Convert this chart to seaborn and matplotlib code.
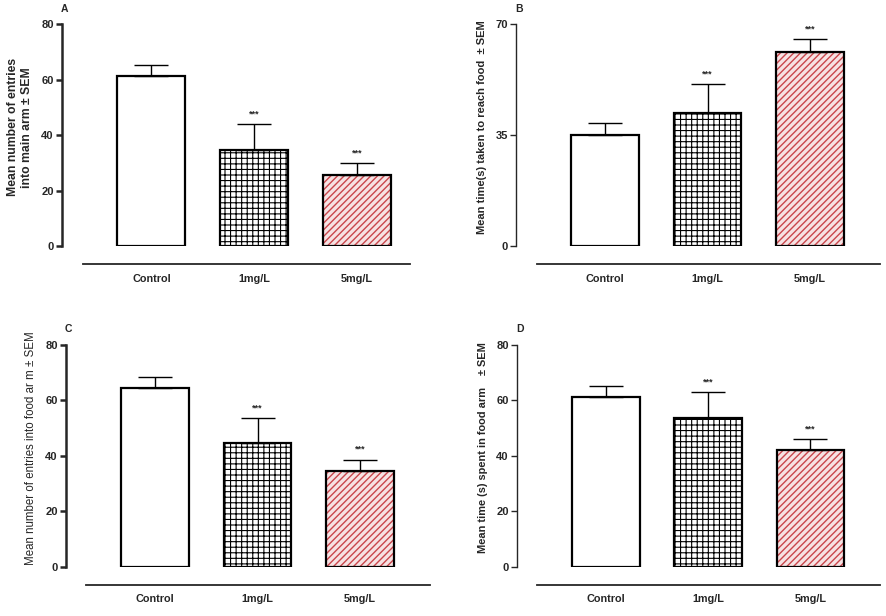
import matplotlib
matplotlib.use("Agg")
import matplotlib.pyplot as plt
from matplotlib.patches import Rectangle
import seaborn as sns

# groups and values (mean, upper SEM)
groups = ["Control", "1mg/L", "5mg/L"]

main_arm_mean = [61.2, 34.7, 25.6]
main_arm_sem = [4.0, 9.4, 4.3]

reach_food_mean = [34.9, 41.8, 61.3]
reach_food_sem = [3.9, 9.3, 3.9]

food_entries_mean = [64.3, 44.6, 34.5]
food_entries_sem = [4.2, 9.1, 4.1]

food_time_mean = [61.0, 53.5, 41.9]
food_time_sem = [4.0, 9.5, 4.2]

stars = ["", "***", "***"]

RED = "#c9464c"

sns.set_theme(style="white")
plt.rcParams["font.family"] = ["Liberation Sans", "DejaVu Sans"]
plt.rcParams["hatch.linewidth"] = 0.8


def draw_panel(fig, rect, means, sems, ymax, yticks, ylabel, letter,
               label_size=8.3, label_weight="bold", spine_lw=1.6, xright=2.55):
    ax = fig.add_axes(rect)
    sns.barplot(x=groups, y=means, ax=ax, width=0.66, color="white",
                edgecolor="black", linewidth=1.6, errorbar=None)

    bars = ax.patches[:3]
    bars[1].set_hatch("+++")
    # red hatched bar: hatch drawn with red edge, outline drawn on top in black
    red = bars[2]
    red.set_hatch("/////")
    red.set_facecolor("#f7e2e3")
    red.set_edgecolor(RED)
    red.set_linewidth(0)
    if hasattr(red, "set_hatch_linewidth"):
        red.set_hatch_linewidth(1.0)
    ax.add_patch(Rectangle((red.get_x(), red.get_y()), red.get_width(),
                           red.get_height(), facecolor="none",
                           edgecolor="black", linewidth=1.6, zorder=3))

    ax.errorbar(range(len(groups)), means, yerr=[[0] * 3, sems], fmt="none",
                ecolor="black", elinewidth=1.0, capsize=12, capthick=1.0,
                zorder=1)
    for i, s in enumerate(stars):
        if s:
            ax.annotate(s, (i, means[i] + sems[i]), xytext=(0, 4),
                        textcoords="offset points", ha="center", va="bottom",
                        fontsize=6.5, fontweight="bold")

    ax.set_ylim(0, ymax)
    ax.set_xlim(-0.87, xright)
    ax.set_yticks(yticks)
    ax.set_ylabel(ylabel, fontsize=label_size, fontweight=label_weight,
                  labelpad=6, y=0.535)

    for side in ["top", "right"]:
        ax.spines[side].set_visible(False)
    ax.spines["left"].set_linewidth(spine_lw)
    ax.spines["bottom"].set_linewidth(1.3)
    ax.spines["bottom"].set_position(("outward", 13))
    ax.spines["bottom"].set_bounds(-0.67, xright)

    ax.tick_params(axis="y", direction="out", length=4, width=spine_lw,
                   labelsize=8, pad=2, left=True)
    ax.tick_params(axis="x", length=0, labelsize=7.8, pad=7)
    for t in ax.get_xticklabels() + ax.get_yticklabels():
        t.set_fontweight("bold")

    x0 = rect[0]
    fig.text(x0 + 0.003, rect[1] + rect[3] + 0.02, letter, fontsize=7.5,
             fontweight="bold", ha="center")
    return ax


fig = plt.figure(figsize=(8.86, 6.16), dpi=100)

draw_panel(fig, [0.070, 0.6006, 0.393, 0.3604], main_arm_mean, main_arm_sem,
           80, [0, 20, 40, 60, 80],
           "Mean number of entries\ninto main arm ± SEM", "A",
           label_size=8.8, spine_lw=1.8, xright=2.52)

draw_panel(fig, [0.5824, 0.6006, 0.4106, 0.3604], reach_food_mean, reach_food_sem,
           70, [0, 35, 70],
           "Mean time(s) taken to reach food  ± SEM", "B",
           label_size=8.0, spine_lw=1.0, xright=2.68)

draw_panel(fig, [0.0745, 0.080, 0.4105, 0.3604], food_entries_mean, food_entries_sem,
           80, [0, 20, 40, 60, 80],
           "Mean number of entries into food ar m ± SEM", "C",
           label_size=8.3, label_weight="normal", spine_lw=1.8, xright=2.68)

draw_panel(fig, [0.5835, 0.080, 0.4095, 0.3604], food_time_mean, food_time_sem,
           80, [0, 20, 40, 60, 80],
           "Mean time (s) spent in food arm    ± SEM", "D",
           label_size=7.9, spine_lw=1.0, xright=2.68)

fig.savefig("out.png", dpi=100, facecolor="white")
